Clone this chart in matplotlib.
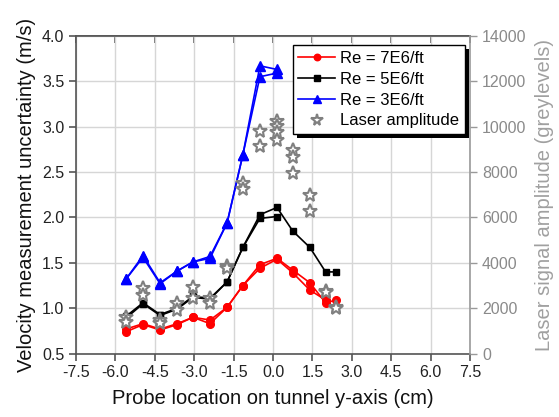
import matplotlib
matplotlib.use('Agg')
import matplotlib.pyplot as plt
from matplotlib.patches import Rectangle
from matplotlib.transforms import IdentityTransform

plt.rcParams['font.family'] = ['Liberation Sans', 'DejaVu Sans']

# Probe positions (cm)
x_pos = [-5.6, -4.95, -4.3, -3.65, -3.05, -2.4, -1.75, -1.15, -0.5, 0.15, 0.75, 1.4, 2.0, 2.4]

# Velocity uncertainty (m/s), two traverses per Reynolds number
re7_a = [0.77, 0.83, 0.77, 0.83, 0.90, 0.87, 1.01, 1.25, 1.48, 1.55, 1.42, 1.28, 1.06, 1.09]
re7_b = [0.74, 0.82, 0.76, 0.82, 0.90, 0.83, 1.01, 1.25, 1.44, 1.54, 1.39, 1.20, 1.09]
re5_a = [0.91, 1.06, 0.93, 1.00, 1.13, 1.11, 1.29, 1.67, 2.03, 2.11, 1.85, 1.67, 1.40, 1.40]
re5_b = [0.89, 1.05, 0.92, 0.99, 1.12, 1.10, 1.29, 1.67, 1.99, 2.01]
re3_a = [1.32, 1.58, 1.28, 1.41, 1.51, 1.57, 1.94, 2.69, 3.67, 3.63]
re3_b = [1.32, 1.56, 1.27, 1.41, 1.51, 1.55, 1.94, 2.69, 3.55, 3.59]

# Laser amplitude (greylevels)
laser_a = [1630, 2880, 1480, 2220, 2950, 2440, 3860, 7500, 9800, 10260, 8970, 6990, 2760, 2070]
laser_b = [1410, 2580, 1340, 1920, 2440, 2220, 3780, 7240, 9150, 10020, 8650, 6280, 2700, 1990]
laser_extra_x = [0.15, 0.15, 0.75]
laser_extra_amp = [9770, 9410, 7970]

labels = ['Re = 7E6/ft', 'Re = 5E6/ft', 'Re = 3E6/ft', 'Laser amplitude']

xticks = [-7.5, -6.0, -4.5, -3.0, -1.5, 0.0, 1.5, 3.0, 4.5, 6.0, 7.5]
yticks = [0.5, 1.0, 1.5, 2.0, 2.5, 3.0, 3.5, 4.0]
y2ticks = [0, 2000, 4000, 6000, 8000, 10000, 12000, 14000]

fig = plt.figure(figsize=(5.59, 4.17), dpi=100)
ax = fig.add_axes([0.136, 0.152, 0.705, 0.762])
ax2 = ax.twinx()

grid_c = '#d6d6d6'
ax.set_xlim(-7.5, 7.5)
ax.set_ylim(0.5, 4.0)
ax.set_xticks(xticks)
ax.set_xticklabels([f'{v:.1f}' for v in xticks])
ax.set_yticks(yticks)
ax.set_yticklabels([f'{v:.1f}' for v in yticks])
ax.grid(True, color=grid_c, lw=1.0)
ax.set_axisbelow(True)

lw = 1.2
red, blk, blu = '#ff0000', '#000000', '#0000ff'
n7b = len(re7_b); n5b = len(re5_b); n3 = len(re3_a)
ax.plot(x_pos, re7_a, '-o', color=red, lw=lw, ms=5.5, label=labels[0])
ax.plot(x_pos[:n7b], re7_b, '-o', color=red, lw=lw, ms=5.5)
ax.plot(x_pos, re5_a, '-s', color=blk, lw=lw, ms=4.5, label=labels[1])
ax.plot(x_pos[:n5b], re5_b, '-s', color=blk, lw=lw, ms=4.5)
ax.plot(x_pos[:n3], re3_a, '-^', color=blu, lw=lw, ms=6.5, label=labels[2])
ax.plot(x_pos[:n3], re3_b, '-^', color=blu, lw=lw, ms=6.5)

star_c = '#808080'
ax2.set_ylim(0, 14000)
ax2.set_yticks(y2ticks)
ax2.plot(x_pos, laser_a, linestyle='none', marker='*', ms=10, mfc='white', mec=star_c, mew=1.5, label=labels[3])
ax2.plot(x_pos, laser_b, linestyle='none', marker='*', ms=10, mfc='white', mec=star_c, mew=1.5)
ax2.plot(laser_extra_x, laser_extra_amp, linestyle='none', marker='*', ms=10, mfc='white', mec=star_c, mew=1.5)

# Styling
axis_c = '#555555'
for s in ['left', 'bottom', 'top']:
    ax.spines[s].set_color(axis_c)
    ax.spines[s].set_linewidth(1.2)
ax.spines['right'].set_visible(False)
for s in ['left', 'bottom', 'top']:
    ax2.spines[s].set_visible(False)
ax2.spines['right'].set_color('#999999')
ax2.spines['right'].set_linewidth(1.2)

ax.tick_params(axis='both', direction='out', length=5, width=1.2, color=axis_c,
               labelsize=11.5, labelcolor='#222222')
ax2.tick_params(axis='y', direction='out', length=5, width=1.0, color='#999999',
                labelsize=11.5, labelcolor='#8a8a8a')
top = ax.secondary_xaxis('top')
top.set_xticks(xticks)
top.tick_params(direction='in', length=5, width=1.2, color=axis_c, labeltop=False)
top.spines['top'].set_color(axis_c)
top.spines['top'].set_linewidth(1.2)

ax.set_xlabel('Probe location on tunnel y-axis (cm)', fontsize=14.5, color='#111111', labelpad=6)
ax.set_ylabel('Velocity measurement uncertainty (m/s)', fontsize=14.5, color='#111111', labelpad=4)
ax2.set_ylabel('Laser signal amplitude (greylevels)', fontsize=14.5, color='#a0a0a0', labelpad=6)

h1, l1 = ax.get_legend_handles_labels()
h2, l2 = ax2.get_legend_handles_labels()
leg = ax2.legend(h1 + h2, l1 + l2, loc='upper right', bbox_to_anchor=(0.987, 0.971),
                 fontsize=12, frameon=True, fancybox=False, edgecolor='black',
                 handlelength=2.2, handletextpad=0.3, borderpad=0.35, labelspacing=0.35,
                 borderaxespad=0.0, markerscale=0.85)
leg.get_frame().set_linewidth(1.0)
leg.get_frame().set_alpha(1.0)

fig.canvas.draw()
bb = leg.get_window_extent()
shadow = Rectangle((bb.x0 + 4, bb.y0 - 4), bb.width, bb.height, transform=IdentityTransform(),
                   facecolor='black', edgecolor='none', zorder=leg.get_zorder() - 0.1)
ax2.add_artist(shadow)

fig.savefig('out.png', dpi=100)
